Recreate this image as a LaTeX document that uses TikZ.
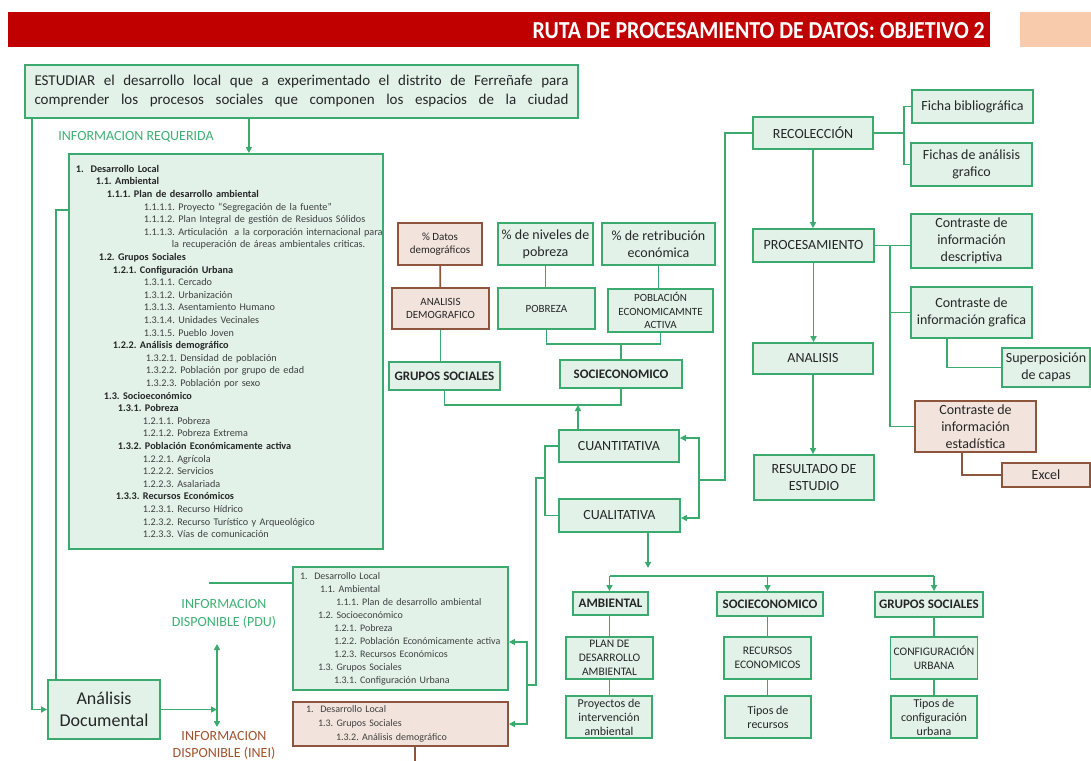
\documentclass[tikz,border=0pt]{standalone}
\usepackage{fontspec}
\setmainfont{Carlito}
\usepackage{xcolor}
\usepackage{graphicx}
\usepackage{tikz}
\usetikzlibrary{arrows.meta, positioning, calc}
\definecolor{linkgreen}{HTML}{3AAA6E}
\definecolor{mintfill}{HTML}{E2F2E9}
\definecolor{clayline}{HTML}{8C553C}
\definecolor{clayfill}{HTML}{F2E4DC}
\definecolor{bannerred}{HTML}{C00000}
\definecolor{peach}{HTML}{F8CBAD}
\definecolor{inkgray}{HTML}{262626}
\definecolor{leafgray}{HTML}{404040}
\definecolor{reqgreen}{HTML}{3DB072}
\definecolor{ineibrown}{HTML}{A0522D}
\newcommand{\fsz}[2]{\fontsize{#1pt}{#2pt}\selectfont}
\newcommand{\lvlind}[1]{\hspace*{#1pt}}
\newcommand{\reqhd}[2]{\lvlind{#1}\mbox{\textbf{#2}}}
\newcommand{\reqit}[2]{\lvlind{#1}\mbox{\color{leafgray}#2}}
\frenchspacing

\begin{document}
\begin{tikzpicture}[x=1pt, y=-1pt,
  gbox/.style={draw=linkgreen, fill=mintfill, line width=1.8pt, text=inkgray, align=center, inner sep=0pt, font=\fsz{14}{17}},
  cbox/.style={gbox, draw=clayline, fill=clayfill},
  sz/.style 2 args={minimum width=#1pt, minimum height=#2pt},
  small/.style={font=\fsz{11}{13.5}},
  caps/.style={font=\bfseries\fsz{13}{16}},
  link/.style={draw=linkgreen, line width=1.8pt},
  claylink/.style={draw=clayline, line width=1.8pt},
  arr/.style={link, -{Triangle[length=6pt, width=6pt]}}]
  \useasboundingbox (0,0) rectangle (1091,760);

  \fill[bannerred] (8,12) rectangle (990,47);
  \fill[peach] (1020,12) rectangle (1091,47);
  \node[anchor=base east, text=white, inner sep=0pt] (title) at (985,38) {\resizebox{452pt}{16pt}{\bfseries RUTA DE PROCESAMIENTO DE DATOS: OBJETIVO 2}};

  \node[gbox, sz={553}{53}, font=\fsz{15}{19}] (obj) at (301.5,91.5) {\makebox[534pt][s]{ESTUDIAR el desarrollo local que a experimentado el distrito de Ferreñafe para}\\ \makebox[534pt][s]{comprender los procesos sociales que componen los espacios de la ciudad}};
  \node[text=reqgreen, font=\fsz{14}{17}] (reqlbl) at (136,137) {INFORMACION REQUERIDA};
  \node[gbox, anchor=north west, sz={314}{395}, text width=300pt, align=left, inner xsep=4pt, font=\fsz{10.2}{12.6}] (req) at (68,153) {
    \reqhd{0}{1.\ \ Desarrollo Local}\\
    \reqhd{20}{1.1. Ambiental}\\
    \reqhd{31}{1.1.1. Plan de desarrollo ambiental}\\
    \reqit{68}{1.1.1.1. Proyecto “Segregación de la fuente”}\\
    \reqit{68}{1.1.1.2. Plan Integral de gestión de Residuos Sólidos}\\
    \reqit{68}{1.1.1.3. Articulación\ \ a la corporación internacional para}\\
    \reqit{96}{la recuperación de áreas ambientales criticas.}\\
    \reqhd{23}{1.2. Grupos Sociales}\\
    \reqhd{37}{1.2.1. Configuración Urbana}\\
    \reqit{68}{1.3.1.1. Cercado}\\
    \reqit{68}{1.3.1.2. Urbanización}\\
    \reqit{68}{1.3.1.3. Asentamiento Humano}\\
    \reqit{68}{1.3.1.4. Unidades Vecinales}\\
    \reqit{68}{1.3.1.5. Pueblo Joven}\\
    \reqhd{37}{1.2.2. Análisis demográfico}\\
    \reqit{70}{1.3.2.1. Densidad de población}\\
    \reqit{70}{1.3.2.2. Población por grupo de edad}\\
    \reqit{70}{1.3.2.3. Población por sexo}\\
    \reqhd{28}{1.3. Socioeconómico}\\
    \reqhd{42}{1.3.1. Pobreza}\\
    \reqit{67}{1.2.1.1. Pobreza}\\
    \reqit{67}{1.2.1.2. Pobreza Extrema}\\
    \reqhd{42}{1.3.2. Población Económicamente activa}\\
    \reqit{67}{1.2.2.1. Agrícola}\\
    \reqit{67}{1.2.2.2. Servicios}\\
    \reqit{67}{1.2.2.3. Asalariada}\\
    \reqhd{40}{1.3.3. Recursos Económicos}\\
    \reqit{67}{1.2.3.1. Recurso Hídrico}\\
    \reqit{67}{1.2.3.2. Recurso Turístico y Arqueológico}\\
    \reqit{67}{1.2.3.3. Vías de comunicación}};
  \draw[arr] ([xshift=23pt]req.north |- obj.south) -- ([xshift=23pt]req.north);

  \node[gbox, sz={112}{59}, font=\fsz{18}{21.5}] (adoc) at (104,709.5) {Análisis\\Documental};
  \draw[arr] ([xshift=8pt]obj.south west) |- (adoc.west);
  \draw[link] ([xshift=-48pt]adoc.north) |- ([yshift=-57pt]req.north west);
  \node[text=reqgreen, align=center, font=\fsz{14}{18}] (pdulbl) at (224,614) {INFORMACION\\DISPONIBLE (PDU)};
  \node[text=ineibrown, align=center, font=\fsz{14}{17}] (ineilbl) at (224,745) {INFORMACION\\DISPONIBLE (INEI)};
  \coordinate (dtop) at (217,644);
  \coordinate (dbot) at (217,727);
  \draw[link, {Triangle[length=6pt, width=6pt]}-{Triangle[length=6pt, width=6pt]}] (dtop) -- (dbot);
  \draw[arr] (adoc.east) -- (adoc.east -| dtop);

  \node[gbox, sz={215}{123}, text width=201pt, align=left, inner xsep=7pt, font=\fsz{10}{13}, text=leafgray] (pdu) at (400.5,628.5) {
    \lvlind{0}1.\ \ Desarrollo Local\\
    \lvlind{20}1.1. Ambiental\\
    \lvlind{36}1.1.1. Plan de desarrollo ambiental\\
    \lvlind{18}1.2. Socioeconómico\\
    \lvlind{34}1.2.1. Pobreza\\
    \lvlind{34}1.2.2. Población Económicamente activa\\
    \lvlind{34}1.2.3. Recursos Económicos\\
    \lvlind{18}1.3. Grupos Sociales\\
    \lvlind{34}1.3.1. Configuración Urbana};
  \draw[link] ([yshift=45.5pt]pdu.west) -- ++(-83,0);
  \node[cbox, sz={215}{44}, text width=189pt, align=left, inner xsep=13pt, font=\fsz{10}{14}, text=leafgray] (inei) at (400.5,724) {
    \lvlind{0}1.\ \ Desarrollo Local\\
    \lvlind{12}1.3. Grupos Sociales\\
    \lvlind{30}1.3.2. Análisis demográfico};
  \draw[claylink] ([xshift=14.5pt]inei.south) -- ++(0,16);

  \node[cbox, sz={84}{42}, small] (datos) at (440,244) {\% Datos\\demográficos};
  \node[cbox, sz={97}{41}, small] (anademo) at (440.5,308.5) {ANALISIS\\DEMOGRAFICO};
  \node[gbox, sz={95}{42}] (nivpob) at (545.5,244) {\% de niveles de\\pobreza};
  \node[gbox, sz={113}{42}] (retrib) at (658.5,244) {\% de retribución\\económica};
  \node[gbox, sz={97}{41}, small] (pobreza) at (546.5,308.5) {POBREZA};
  \node[gbox, sz={105}{43}, small] (pea) at (660.5,310.5) {POBLACIÓN\\ECONOMICAMNTE\\ACTIVA};
  \node[gbox, sz={111}{28}, caps] (gsoc) at (444.5,376) {GRUPOS SOCIALES};
  \node[gbox, sz={122}{28}, caps] (socio) at (621,374) {SOCIECONOMICO};
  \draw[claylink] (datos) -- (anademo);
  \draw[link] (anademo.south) -- (anademo.south |- gsoc.north);
  \draw[link] (nivpob.south) -- (nivpob.south |- pobreza.north);
  \draw[link] (retrib.south) -- (retrib.south |- pea.north);
  \coordinate (pjoin) at (621,344);
  \draw[link] (pobreza.south) |- (pjoin) -| (pea.south);
  \draw[link] (pjoin) -- (socio.north);
  \coordinate (gjoin) at (578,405);
  \draw[link] (gsoc.south) |- (gjoin) -| (socio.south);

  \node[gbox, sz={120}{32}] (cuanti) at (619,446) {CUANTITATIVA};
  \node[gbox, sz={121}{33}] (cuali) at (619.5,515.5) {CUALITATIVA};
  \draw[arr] (cuanti.north -| gjoin) -- (gjoin);
  \draw[link] (cuanti.west) -- ++(-13,0) |- (cuali.west);
  \coordinate (qleft) at (546,478);
  \coordinate (dispj) at (527,685);
  \draw[link] (qleft) -- ++(-10,0) |- (dispj);
  \draw[arr] (dispj) |- ([yshift=-13.5pt]pdu.east);
  \draw[arr] (dispj) |- (inei.east);

  \node[gbox, sz={120}{32}] (recol) at (813,133) {RECOLECCIÓN};
  \node[gbox, sz={121}{33}] (fbib) at (972.5,106.5) {Ficha bibliográfica};
  \node[gbox, sz={121}{43}] (fana) at (971.5,164.5) {Fichas de análisis\\grafico};
  \path (recol.east) ++(30,0) coordinate (rj);
  \draw[link] (recol.east) -- (rj) |- (fbib.west);
  \draw[link] (rj) |- (fana.west);
  \node[gbox, sz={121}{33}] (proc) at (813.5,245.5) {PROCESAMIENTO};
  \node[gbox, sz={121}{54}] (cdes) at (971.5,241) {Contraste de\\información\\descriptiva};
  \node[gbox, sz={121}{51}] (cgra) at (971.5,312.5) {Contraste de\\información grafica};
  \node[cbox, sz={121}{51}] (cest) at (975.5,426.5) {Contraste de\\información\\estadística};
  \node[gbox, sz={88}{39}] (sup) at (1046,367.5) {Superposición\\de capas};
  \node[cbox, sz={88}{24}] (excel) at (1046,475) {Excel};
  \node[gbox, sz={120}{31}] (anal) at (813,358.5) {ANALISIS};
  \node[gbox, sz={120}{45}] (resu) at (814,477.5) {RESULTADO DE\\ESTUDIO};
  \draw[arr] (recol.south) -- (recol.south |- proc.north);
  \draw[arr] (proc.south) -- (proc.south |- anal.north);
  \draw[arr] (anal.south) -- (anal.south |- resu.north);
  \draw[link] (proc.east) -- (proc.east -| cdes.west);
  \path (proc.east) ++(15,0) coordinate (pj);
  \draw[link] (pj) |- (cgra.west);
  \draw[link] (pj) |- (cest.west);
  \draw[link] ([xshift=-24.5pt]cgra.south) |- (sup.west);
  \draw[claylink] ([xshift=-13.5pt]cest.south) |- (excel.west);
  \coordinate (qright) at (699,480);
  \draw[link] (recol.west) -- ++(-27,0) |- (qright);
  \draw[arr] (qright) |- ([yshift=8pt]cuanti.east);
  \draw[arr] (qright) |- ([yshift=-2.5pt]cuali.east);

  \node[gbox, sz={75}{23}, caps] (amb) at (610.5,603.5) {AMBIENTAL};
  \node[gbox, sz={106}{24}, caps] (sbot) at (770,604) {SOCIECONOMICO};
  \node[gbox, sz={108}{25}, caps] (gbot) at (929,604.5) {GRUPOS SOCIALES};
  \node[gbox, sz={87}{42}, font=\fsz{11.5}{14}] (plan) at (609.5,658) {PLAN DE\\DESARROLLO\\AMBIENTAL};
  \node[gbox, sz={87}{42}, font=\fsz{11.5}{14}] (recu) at (767.5,658) {RECURSOS\\ECONOMICOS};
  \node[gbox, sz={87}{42}, font=\fsz{11.5}{14}] (conf) at (934,658) {CONFIGURACIÓN\\URBANA};
  \node[gbox, sz={86}{42}, font=\fsz{12}{14}] (proy) at (609,717) {Proyectos de\\intervención\\ambiental};
  \node[gbox, sz={86}{42}, font=\fsz{12}{14}] (tipr) at (768,717) {Tipos de\\recursos};
  \node[gbox, sz={86}{42}, font=\fsz{12}{14}] (tipc) at (934,717) {Tipos de\\configuración\\urbana};
  \coordinate (bjoin) at (648,576);
  \draw[arr, shorten >=8pt] (cuali.south -| bjoin) -- (bjoin);
  \draw[link] (plan.north |- bjoin) -- (conf.north |- bjoin);
  \foreach \p/\c/\l in {amb/plan/proy, sbot/recu/tipr, gbot/conf/tipc} {
    \draw[arr] (\c.north |- bjoin) -- (\c.north |- \p.north);
    \draw[link] (\p.south -| \c.north) -- (\c.north);
    \draw[link] (\c.south) -- (\c.south |- \l.north);
  }
\end{tikzpicture}
\end{document}
